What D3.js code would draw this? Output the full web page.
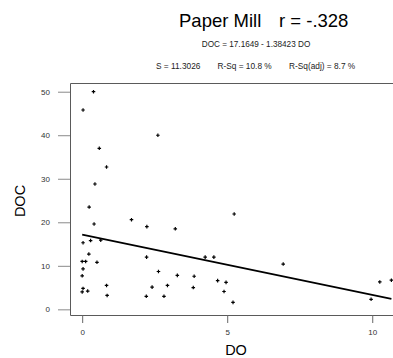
<!DOCTYPE html>
<html>
<head>
<meta charset="utf-8">
<script src="https://cdn.jsdelivr.net/npm/d3@7"></script>
<style>
  html, body { margin: 0; padding: 0; background: #fff; }
  svg { display: block; font-family: "Liberation Sans", Arial, sans-serif; }
</style>
</head>
<body>
<svg id="chart" width="393" height="358"></svg>
<script>
// Dissolved oxygen (DO) vs dissolved organic carbon (DOC), Paper Mill site
const doValues = [0.39, 0.03, 2.61, 0.59, 0.84, 0.44, 0.24, 0.41, 1.70, 2.23,
                  3.21, 0.03, 0.29, 0.64, 0.23, 0.00, 0.12, 0.51, 2.22, 0.03,
                  0.00, 2.63, 0.84, 2.41, 0.03, 0.00, 0.19, 0.86, 2.21, 2.82,
                  5.24, 4.24, 4.54, 3.28, 3.86, 2.94, 3.83, 4.67, 4.96, 4.89,
                  5.20, 6.93, 9.96, 10.26, 10.66];
const docValues = [50.0, 45.8, 40.0, 37.0, 32.7, 28.8, 23.5, 19.6, 20.6, 19.0,
                   18.5, 15.3, 15.8, 15.9, 12.7, 11.0, 11.0, 10.8, 12.0, 9.3,
                   7.7, 8.7, 5.5, 5.1, 4.8, 4.0, 4.2, 3.2, 3.0, 3.0,
                   21.9, 12.0, 12.0, 7.8, 7.6, 5.5, 5.0, 6.6, 6.2, 4.1,
                   1.6, 10.4, 2.3, 6.3, 6.7];

// Fitted regression: DOC = intercept + slope * DO
const fitIntercept = 17.1649;
const fitSlope = -1.38423;

const xTicks = [0, 5, 10];
const yTicks = [0, 10, 20, 30, 40, 50];

const titleMain = "Paper Mill";
const titleStat = "r = -.328";
const equationText = "DOC = 17.1649 - 1.38423 DO";
const statTexts = ["S = 11.3026", "R-Sq = 10.8 %", "R-Sq(adj) = 8.7 %"];
const xTitle = "DO";
const yTitle = "DOC";

const svg = d3.select("#chart");

const frame = { left: 70, top: 83, right: 394, bottom: 315 };

const x = d3.scaleLinear().domain([-0.42, 10.75]).range([frame.left, frame.right]);
const y = d3.scaleLinear().domain([-1.3, 52.0]).range([frame.bottom, frame.top]);

// Titles
svg.append("text").attr("x", 179).attr("y", 27).attr("font-size", 18.5)
  .attr("fill", "#000").text(titleMain);
svg.append("text").attr("x", 279).attr("y", 27).attr("font-size", 18.5)
  .attr("fill", "#000").text(titleStat);
svg.append("text").attr("x", 256).attr("y", 47).attr("font-size", 8.2)
  .attr("text-anchor", "middle").attr("fill", "#222").text(equationText);
const statX = [156, 217.5, 289];
statTexts.forEach((t, i) => {
  svg.append("text").attr("x", statX[i]).attr("y", 68.5).attr("font-size", 8.3)
    .attr("fill", "#222").text(t);
});

// Plot frame (right edge runs past the window)
svg.append("path")
  .attr("d", `M${frame.right},${frame.top + 0.5}H${frame.left + 0.5}V${frame.bottom + 0.5}H${frame.right}`)
  .attr("fill", "none").attr("stroke", "#5a5a5a").attr("stroke-width", 1);

// Y axis, detached ticks to the left of the frame
const yAxis = d3.axisLeft(y).tickValues(yTicks).tickSize(12).tickPadding(8).tickFormat(d3.format("d"));
const gy = svg.append("g").attr("transform", `translate(${frame.left},0)`).call(yAxis);
gy.select(".domain").remove();
gy.selectAll(".tick line").attr("stroke", "#8a8a8a");
gy.selectAll(".tick text").attr("font-size", 8).attr("fill", "#333")
  .attr("font-family", "'Liberation Sans', Arial, sans-serif");

// X axis below the frame
const xAxis = d3.axisBottom(x).tickValues(xTicks).tickSize(8).tickPadding(6).tickFormat(d3.format("d"));
const gx = svg.append("g").attr("transform", `translate(0,${frame.bottom})`).call(xAxis);
gx.select(".domain").remove();
gx.selectAll(".tick line").attr("stroke", "#666");
gx.selectAll(".tick text").attr("font-size", 8).attr("fill", "#333")
  .attr("font-family", "'Liberation Sans', Arial, sans-serif");

// Axis titles
svg.append("text").attr("x", 236).attr("y", 355).attr("font-size", 14.5)
  .attr("text-anchor", "middle").attr("fill", "#000").text(xTitle);
svg.append("text").attr("transform", "translate(25,201) rotate(-90)")
  .attr("font-size", 14.5).attr("text-anchor", "middle").attr("fill", "#000").text(yTitle);

// Fitted line across the observed DO range
const fitDomain = [d3.min(doValues), d3.max(doValues)];
svg.append("line")
  .attr("x1", x(fitDomain[0])).attr("y1", y(fitIntercept + fitSlope * fitDomain[0]))
  .attr("x2", x(fitDomain[1])).attr("y2", y(fitIntercept + fitSlope * fitDomain[1]))
  .attr("stroke", "#000").attr("stroke-width", 1.6);

// Observations
const pts = doValues.map((d, i) => ({ x: d, y: docValues[i] }));
svg.append("g").selectAll("path").data(pts).join("path")
  .attr("transform", d => `translate(${x(d.x)},${y(d.y)})`)
  .attr("d", d3.symbol(d3.symbolCross, 7))
  .attr("fill", "#000");
</script>
</body>
</html>
